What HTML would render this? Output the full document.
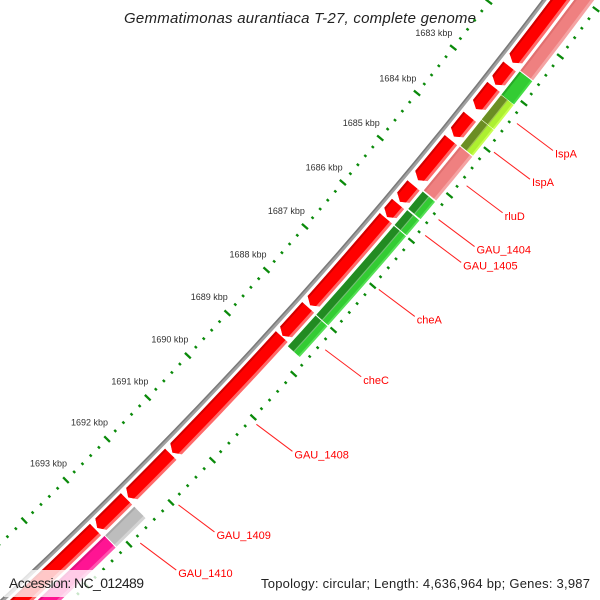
<!DOCTYPE html>
<html><head><meta charset="utf-8"><style>
html,body{margin:0;padding:0;background:#fff;width:600px;height:600px;overflow:hidden;}
svg{display:block;font-family:"Liberation Sans",sans-serif;overflow:hidden;}
</style></head><body>
<svg id="map" width="600" height="600" viewBox="0 0 600 600">
<rect x="0" y="0" width="600" height="600" fill="#fff"/>
<g id="ticks"></g>
<g id="backbone"></g>
<g id="fwd"></g>
<g id="rev"></g>
<g id="labels"></g>
<text x="300" y="23" text-anchor="middle" font-size="15" font-style="italic" fill="#222" textLength="352">Gemmatimonas aurantiaca T-27, complete genome</text>
<rect x="4" y="570" width="148" height="27" fill="#fff" fill-opacity="0.78"/>
<text x="9" y="588" font-size="14" fill="#222" textLength="135">Accession: NC_012489</text>
<text x="590" y="588" text-anchor="end" font-size="13" fill="#222" textLength="329">Topology: circular; Length: 4,636,964 bp; Genes: 3,987</text>
</svg>
<script>
// ---- data (kbp) ----
const tickLabels = [1683,1684,1685,1686,1687,1688,1689,1690,1691,1692,1693];
const fwdStarts = [1679.0,1682.66,1683.10,1683.75,1684.26,1685.26,1685.67,1685.99,1688.0,1688.67,1691.42,1692.49,1693.23];
const fwdEnds   = [1682.575,1683.05,1683.58,1684.18,1685.14,1685.62,1685.96,1687.95,1688.65,1691.38,1692.45,1693.19,1697.0];
const revStarts = [1679.0,1682.62,1683.13,1683.67,1684.25,1685.24,1685.65,1686.0,1688.02,1692.49,1693.2];
const revEnds   = [1682.60,1683.12,1683.66,1684.23,1685.21,1685.62,1685.98,1688.0,1688.72,1693.18,1697.0];
const revTypes  = ["pink","green2","olive","olive","pink","green","green","green","green","gray","magenta"];
const labelNames = ["IspA","IspA","rluD","GAU_1404","GAU_1405","cheA","cheC","GAU_1408","GAU_1409","GAU_1410"];
const labelPos   = [1683.34,1683.96,1684.69,1685.43,1685.78,1686.98,1688.34,1690.05,1691.94,1692.85];

// ---- axis ----
const CX=-3135, CY=-2776, A0=38.20, DPK=0.729;
const NS="http://www.w3.org/2000/svg";
function ang(k){return (A0+(k-1683)*DPK)*Math.PI/180;}
function pt(r,k){const a=ang(k);return [CX+r*Math.cos(a),CY+r*Math.sin(a)];}
function f(p){return p[0].toFixed(2)+" "+p[1].toFixed(2);}
function sector(r1,r2,b1,b2){
  return "M"+f(pt(r1,b1))+"A"+r1+" "+r1+" 0 0 1 "+f(pt(r1,b2))+"L"+f(pt(r2,b2))+"A"+r2+" "+r2+" 0 0 0 "+f(pt(r2,b1))+"Z";
}
function arrow(r1,r2,b1,b2){
  const h=0.09; const bb=Math.max(b1,b2-h); const rm=(r1+r2)/2;
  return "M"+f(pt(r1,b1))+"A"+r1+" "+r1+" 0 0 1 "+f(pt(r1,bb))+"L"+f(pt(rm,b2))+"L"+f(pt(r2,bb))+"A"+r2+" "+r2+" 0 0 0 "+f(pt(r2,b1))+"Z";
}
function mk(tag,attrs,parent){const e=document.createElementNS(NS,tag);for(const k in attrs)e.setAttribute(k,attrs[k]);parent.appendChild(e);return e;}

// ticks
const tg=document.getElementById("ticks");
const RIN=4566, ROUT=4656;
for(let i=0;i<=80;i++){
  const k=1681+i*0.2; const major=(i%5===0);
  [RIN,ROUT].forEach(function(r){
    const len=major?4:1.4;
    const a=pt(r-len,k), b=pt(r+len,k);
    const l=mk("line",{x1:a[0],y1:a[1],x2:b[0],y2:b[1],stroke:"#0a8a0a","stroke-width":2.3},tg);
    
    
  });
}
tickLabels.forEach(function(k){
  const p=pt(4544,k);
  const t=mk("text",{x:p[0]-2,y:p[1]+2,"text-anchor":"middle","font-size":"9",fill:"#333"},tg);
  t.textContent=k+" kbp";
  
  
});

// backbone
const bg=document.getElementById("backbone");
const bb1=mk("path",{d:sector(4607,4611,1679,1697),fill:"#a0a0a0"},bg);


const bb2=mk("path",{d:sector(4607,4608.5,1679,1697),fill:"#7a7a7a"},bg);



// forward features
const fg=document.getElementById("fwd");
const defs=mk("defs",{},document.getElementById("map"));
const F1=4614, F2=4630;
fwdStarts.forEach(function(s,i){
  const e=fwdEnds[i];
  const cp=mk("clipPath",{id:"fc"+i},defs);
  mk("path",{d:arrow(F1,F2,s,e)},cp);
  const g=mk("g",{"clip-path":"url(#fc"+i+")"},fg);
  
  
  mk("path",{d:sector(F1-1,F2+1,s-0.2,e+0.2),fill:"#ff6a6a"},g);
  mk("path",{d:sector(F1-1,F2-3,s-0.2,e+0.2),fill:"#ff0000"},g);
  mk("path",{d:sector(F1-1,F1+2,s-0.2,e+0.2),fill:"#d00000"},g);
});

// reverse features
const rg=document.getElementById("rev");
const R1=4633, R2=4649, RM=4641;
const styles={
  pink:[["#f5a3a3",R1,R2],["#ef8080",R1,R2-3],["#e07070",R1,R1+2]],
  green:[["#55e055",R1,R2],["#33cc33",RM,R2-2],["#228b22",R1,RM],["#70c070",RM-0.6,RM+0.6]],
  green2:[["#44dd44",R1,R2],["#33cc33",R1,R2-2],["#28a828",R1,R1+2]],
  olive:[["#c8ff50",R1,R2],["#adf030",RM,R2-2],["#6b8e23",R1,RM],["#a0c050",RM-0.6,RM+0.6]],
  gray:[["#d4d4d4",R1,R2],["#bdbdbd",R1,R2-3],["#a8a8a8",R1,R1+2]],
  magenta:[["#ff55b0",R1,R2],["#ff1493",R1,R2-3],["#e0107f",R1,R1+2]]
};
revStarts.forEach(function(s,i){
  const e=revEnds[i];
  const g=mk("g",{},rg);
  
  
  styles[revTypes[i]].forEach(function(L){mk("path",{d:sector(L[1],L[2],s,e),fill:L[0]},g);});
});

// labels
const lg=document.getElementById("labels");
labelNames.forEach(function(n,i){
  const a=pt(4663,labelPos[i]);
  const b=[a[0]+36,a[1]+27];
  const l=mk("line",{x1:a[0],y1:a[1],x2:b[0],y2:b[1],stroke:"#ff2020","stroke-width":1},lg);
  
  
  const t=mk("text",{x:b[0]+2,y:b[1]+7,"font-size":"11",fill:"#ff0000"},lg);
  t.textContent=n;
  
  
});
</script>
</body></html>
